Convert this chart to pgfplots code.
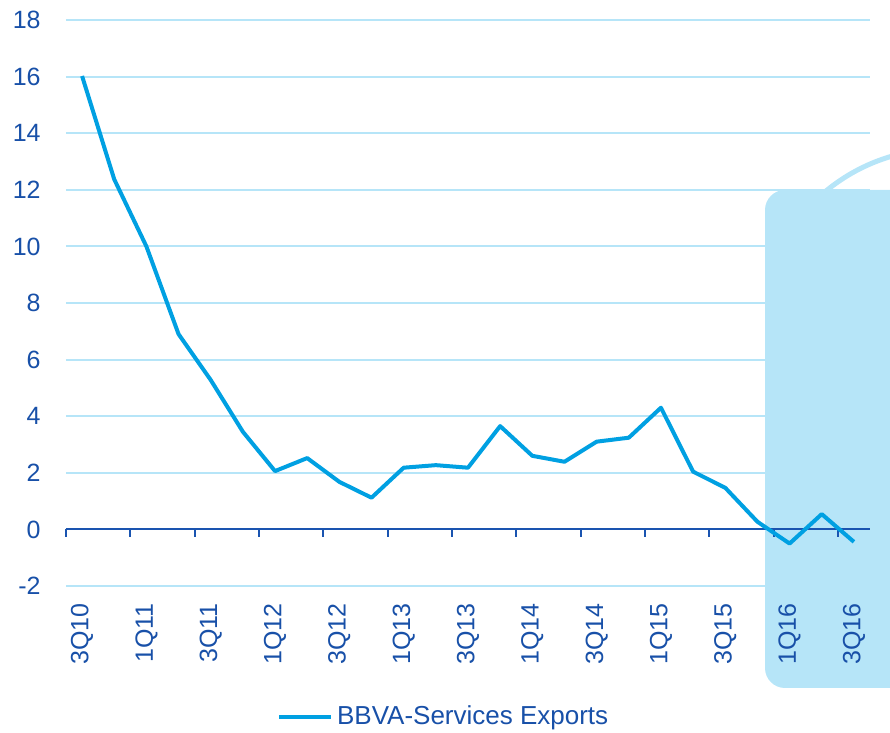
\documentclass[border=0pt]{standalone}
\usepackage{fontspec}
\setmainfont{Liberation Sans}
\usepackage{pgfplots}
\pgfplotsset{compat=1.18}
\definecolor{linecol}{RGB}{0,160,226}
\definecolor{txtcol}{RGB}{24,80,168}
\definecolor{gridcol}{RGB}{182,229,248}
\definecolor{hlcol}{RGB}{182,229,248}
\definecolor{axcol}{RGB}{26,84,176}
\begin{document}
\begin{tikzpicture}
\useasboundingbox (-33pt,-73.5pt) rectangle (412pt,293pt);
\clip (-33pt,-73.5pt) rectangle (412pt,293pt);
% highlight
\begin{scope}
\clip (300pt,197pt) rectangle (450pt,300pt);
\draw[hlcol, line width=2.5pt] (438.5pt,126.5pt) circle (92pt);
\end{scope}
\fill[hlcol, rounded corners=10pt] (349.5pt,-51pt) rectangle (440pt,198pt);
\begin{axis}[
  at={(0pt,0pt)}, anchor=south west,
  scale only axis, width=402pt, height=283pt,
  xmin=-0.5, xmax=24.5, ymin=-2, ymax=18,
  axis line style={draw=none},
  xtick={0,2,...,24},
  xticklabels={3Q10,1Q11,3Q11,1Q12,3Q12,1Q13,3Q13,1Q14,3Q14,1Q15,3Q15,1Q16,3Q16},
  ytick={-2,0,...,18},
  yticklabels={-2,0,2,4,6,8,10,12,14,16,18},
  major tick length=0pt,
  ymajorgrids, xmajorgrids=false,
  grid style={gridcol, line width=1pt},
  tick label style={font=\fontsize{12.5}{14}\selectfont, text=txtcol, inner sep=0pt},
  xticklabel style={yshift=-8.5pt, rotate=90, anchor=east},
  yticklabel style={xshift=-12.5pt, anchor=east},
  legend style={at={(0.471,-0.231)}, anchor=center, draw=none, fill=none,
    font=\fontsize{13}{15}\selectfont, text=txtcol},
  legend image code/.code={\draw[#1] (0pt,0pt) -- (26pt,0pt);},
  clip=false,
]
\draw[axcol, line width=1pt] (axis cs:-0.5,0) -- (axis cs:24.5,0);
\pgfplotsinvokeforeach{-0.5,1.5,...,23.5}{
  \draw[axcol, line width=1pt] (axis cs:#1,0) -- ++(0pt,-4pt);
}
\addplot[linecol, line width=2pt, line join=round] coordinates {
(0,16.02) (1,12.37) (2,10.0) (3,6.90) (4,5.28) (5,3.45) (6,2.06) (7,2.52)
(8,1.68) (9,1.12) (10,2.18) (11,2.27) (12,2.18) (13,3.65) (14,2.60) (15,2.39)
(16,3.10) (17,3.24) (18,4.30) (19,2.04) (20,1.47) (21,0.27) (22,-0.50) (23,0.54) (24,-0.44)
};
\addlegendentry{BBVA-Services Exports}
\end{axis}
\end{tikzpicture}
\end{document}
